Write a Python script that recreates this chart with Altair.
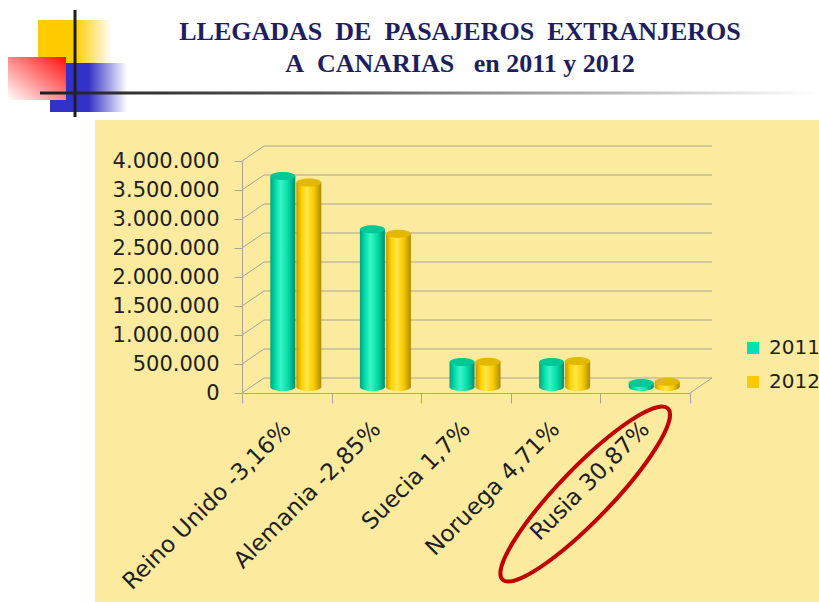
import altair as alt
import pandas as pd

# ---------------- data ----------------
countries = ["Reino Unido -3,16%", "Alemania -2,85%", "Suecia 1,7%", "Noruega 4,71%", "Rusia 30,87%"]
v2011 = [3640000, 2720000, 430000, 430000, 70000]
v2012 = [3525000, 2642000, 437000, 450000, 91600]
years = ["2011", "2012"]
yticks = [0, 500000, 1000000, 1500000, 2000000, 2500000, 3000000, 3500000, 4000000]
title1 = "LLEGADAS\u00a0 DE\u00a0 PASAJEROS\u00a0 EXTRANJEROS"
title2 = "A\u00a0 CANARIAS\u00a0\u00a0 en 2011 y 2012"

df = pd.DataFrame({
    "country": countries * 2,
    "year": [years[0]] * len(countries) + [years[1]] * len(countries),
    "value": v2011 + v2012,
})
grid = pd.DataFrame({"v": yticks})
one = pd.DataFrame({"a": [0]})
leg = pd.DataFrame({"year": years})
rus = pd.DataFrame({"country": [countries[-1]]})

W, H = 448, 232
DX, DY = 22, -15
GRID = "#A6A39A"

xscale = alt.Scale(domain=countries, paddingInner=0, paddingOuter=0)
yscale = alt.Scale(domain=[0, 4000000], nice=False, zero=True)

XAXIS = alt.Axis(title=None, labelAngle=315, labelAlign="right", labelBaseline="middle",
                 labelFontSize=23, labelFont="DejaVu Sans", labelColor="#1E1E1E",
                 labelPadding=22, tickBand="extent", ticks=True, tickSize=10,
                 tickColor=GRID, domainColor=GRID, labelLimit=400, grid=False, zindex=1)
YAXIS = alt.Axis(title=None, values=yticks, ticks=True, tickSize=8, tickColor=GRID,
                 labelPadding=15,
                 labelExpr="join(split(format(datum.value, ','), ','), '.')",
                 labelFontSize=21, labelFont="DejaVu Sans", labelColor="#1E1E1E",
                 domainColor=GRID, grid=False, zindex=1)


def X():
    return alt.X("country:N", sort=countries, scale=xscale, axis=XAXIS)


def grad(stops, horiz=True):
    return alt.LinearGradient(
        gradient="linear",
        stops=[alt.GradientStop(offset=o, color=c) for o, c in stops],
        x1=0, x2=1 if horiz else 0, y1=0, y2=0 if horiz else 1,
    )


def deco(x, x2, y, y2, fill):
    return alt.Chart(one).mark_rect(fill=fill).encode(
        x=alt.value(x), x2=alt.value(x2), y=alt.value(y), y2=alt.value(y2)
    )


panel = deco(-147, 577, -41, 441, "#FCEA9F")
sq_yellow = deco(-204, -130, -141, -98, grad([(0, "#FFCC00"), (0.5, "#FFCC00"), (1, "#FFFFFF")]))
sq_blue = deco(-192, -115, -98, -49, grad([(0, "#3232C8"), (0.5, "#3232C8"), (1, "#FFFFFF")]))
sq_red = deco(-234, -176, -104, -61, alt.LinearGradient(
    gradient="linear", x1=1, y1=0, x2=0, y2=1,
    stops=[alt.GradientStop(offset=0, color="#FF1010"), alt.GradientStop(offset=1, color="#FFFFFF")]))
vline = deco(-168.5, -165.5, -151, -44, "#1E1E1E")
hline = deco(-202, 577, -69.5, -66.5, grad([(0, "#1E1E1E"), (0.35, "#555555"), (1, "#FFFFFF")]))

t1 = alt.Chart(one).mark_text(text=title1, font="Liberation Serif", fontSize=26, fontWeight="bold",
                              color="#1E1E5E", align="center", baseline="alphabetic").encode(
    x=alt.value(218), y=alt.value(-121))
t2 = alt.Chart(one).mark_text(text=title2, font="Liberation Serif", fontSize=26, fontWeight="bold",
                              color="#1E1E5E", align="center", baseline="alphabetic").encode(
    x=alt.value(218), y=alt.value(-89))

backgrid = alt.Chart(grid).mark_rule(color=GRID, strokeWidth=1, yOffset=DY, y2Offset=DY).encode(
    y=alt.Y("v:Q", scale=yscale, axis=YAXIS), y2="v:Q", x=alt.value(DX), x2=alt.value(W + DX))
sidegrid = alt.Chart(grid).mark_rule(color=GRID, strokeWidth=1, y2Offset=DY).encode(
    y=alt.Y("v:Q", scale=yscale, axis=YAXIS), y2="v:Q", x=alt.value(0), x2=alt.value(DX))
floorright = alt.Chart(grid).transform_filter("datum.v == 0").mark_rule(
    color=GRID, strokeWidth=1, y2Offset=DY).encode(
    y=alt.Y("v:Q", scale=yscale, axis=YAXIS), y2="v:Q", x=alt.value(W), x2=alt.value(W + DX))

ELL = "M -1 0 A 1 0.32 0 1 1 1 0 A 1 0.32 0 1 1 -1 0 Z"
BW = 25


def cylinder(year, off, body, top):
    d = df[df["year"] == year]
    base = alt.Chart(d)
    bottom = base.mark_point(shape=ELL, size=BW * BW, filled=True, fill=body, strokeWidth=0,
                             opacity=1, xOffset=off, yOffset=-6).encode(x=X(), y=alt.value(H))
    bar = base.mark_bar(width=BW, fill=body, xOffset=off, yOffset=-6, y2Offset=-6).encode(
        x=X(), y=alt.Y("value:Q", scale=yscale, axis=YAXIS), y2=alt.datum(0))
    cap = base.mark_point(shape=ELL, size=BW * BW, filled=True, fill=top, strokeWidth=0,
                          opacity=1, xOffset=off, yOffset=-6).encode(
        x=X(), y=alt.Y("value:Q", scale=yscale, axis=YAXIS))
    return [bottom, bar, cap]


teal_body = grad([(0, "#00A47E"), (0.22, "#00E2AE"), (0.42, "#3DF3C6"), (0.7, "#00DFA9"), (1, "#008F6C")])
gold_body = grad([(0, "#C49C00"), (0.22, "#FFD400"), (0.42, "#FFE64A"), (0.7, "#F7CD00"), (1, "#B08A00")])
c2011 = cylinder("2011", -4, teal_body, "#00C896")
c2012 = cylinder("2012", 22, gold_body, "#E3B800")

legend_layer = alt.Chart(leg).mark_square(size=0, opacity=1).encode(
    x=alt.value(0), y=alt.value(0),
    color=alt.Color("year:N", scale=alt.Scale(domain=years, range=["#00E0B0", "#FFC800"]),
                    legend=alt.Legend(title=None, orient="none", legendX=501, legendY=177,
                                      symbolType="square", symbolSize=144, symbolStrokeWidth=0,
                                      labelFontSize=20, labelFont="DejaVu Sans", labelColor="#1E1E1E",
                                      labelOffset=6, rowPadding=14, padding=0)))

ellipse = alt.Chart(rus).mark_point(
    shape="M -1 0 A 1 0.22 0 1 1 1 0 A 1 0.22 0 1 1 -1 0 Z", size=238 * 238, filled=False,
    stroke="#C00000", strokeWidth=4, angle=314, xOffset=-60, opacity=1).encode(
    x=X(), y=alt.value(333))

chart = alt.layer(
    panel, sq_yellow, sq_blue, sq_red, vline, hline, t1, t2,
    backgrid, sidegrid, floorright,
    *c2011, *c2012, legend_layer, ellipse,
).properties(
    width=W, height=H,
    autosize=alt.AutoSizeParams(type="none"),
    padding={"left": 242, "top": 161, "right": 819 - 242 - W, "bottom": 602 - 161 - H},
).configure_view(stroke=None).configure(background="#FFFFFF")

chart.save("out.html", embed_options={"renderer": "svg", "actions": False})
